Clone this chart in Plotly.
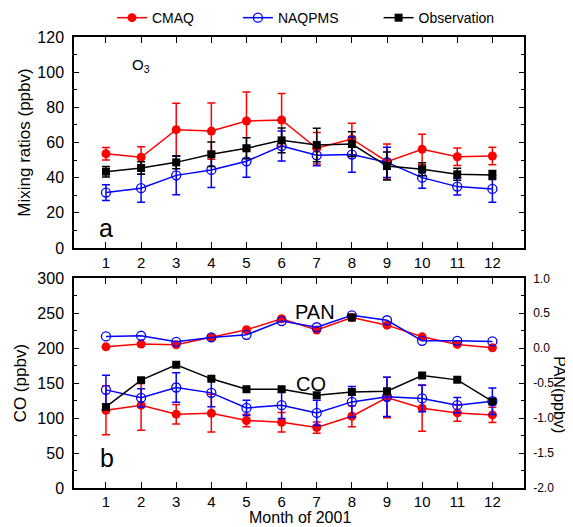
import plotly.graph_objects as go

months = list(range(1, 13))

# Panel a: O3 (ppbv)
o3_cmaq = [53.6, 51.6, 67.3, 66.5, 72.2, 72.8, 56.7, 62.0, 49.1, 56.1, 51.9, 52.3]
o3_cmaq_err = [3.5, 6.0, 15.0, 16.0, 16.5, 15.0, 9.0, 9.0, 10.0, 8.6, 5.0, 5.0]
o3_naq = [31.5, 34.0, 41.3, 44.4, 49.3, 58.0, 52.7, 53.1, 48.7, 40.0, 34.9, 33.6]
o3_naq_err = [4.5, 8.0, 11.0, 10.0, 9.0, 8.5, 6.0, 10.0, 8.6, 6.0, 4.8, 7.6]
o3_obs = [43.4, 45.5, 48.7, 53.3, 56.7, 61.2, 58.6, 59.1, 46.6, 44.8, 41.9, 41.5]
o3_obs_err = [3.0, 3.5, 3.6, 7.0, 6.0, 7.0, 9.5, 7.0, 8.0, 3.7, 3.4, 2.5]

# Panel b: CO (ppbv, left axis)
co_cmaq = [111.3, 118.5, 105.6, 107.0, 96.6, 94.1, 86.5, 102.7, 129.5, 114.2, 107.4, 104.6]
co_cmaq_err = [35, 36, 14, 27, 9, 14, 8, 15, 29, 33, 12, 11]
co_naq = [140.4, 129.0, 143.8, 136.1, 114.6, 118.5, 107.4, 123.2, 130.4, 128.1, 118.5, 124.2]
co_naq_err = [21, 13, 21, 20, 11, 19, 18, 22, 28, 19, 11, 19]
co_obs = [116.0, 154.3, 176.2, 156.2, 141.4, 141.4, 132.8, 137.5, 138.5, 161.0, 154.7, 123.8]

# Panel b: PAN (ppbv, right axis)
pan_cmaq = [0.02, 0.06, 0.05, 0.155, 0.264, 0.421, 0.26, 0.44, 0.33, 0.163, 0.054, 0.006]
pan_naq = [0.169, 0.178, 0.092, 0.155, 0.192, 0.388, 0.30, 0.47, 0.40, 0.106, 0.106, 0.097]
pan_obs = [None, None, None, None, None, None, None, 0.44, None, None, None, None]

o3_ticks = [0, 20, 40, 60, 80, 100, 120]
co_ticks = [0, 50, 100, 150, 200, 250, 300]
pan_ticks = [-2.0, -1.5, -1.0, -0.5, 0.0, 0.5, 1.0]
pan_ticktext = ["-2.0", "-1.5", "-1.0", "-0.5", "0.0", "0.5", "1.0"]

series_names = ["CMAQ", "NAQPMS", "Observation"]

RED, BLUE, BLACK = "#ff0000", "#0000ff", "#000000"
FONT = "Arial, Liberation Sans, sans-serif"
NB = "\u00a0"
legend_labels = {"CMAQ": "CMAQ" + NB * 10, "NAQPMS": "NAQPMS" + NB * 9, "Observation": "Observation"}

# page body has an 8px margin; lay the figure out in reference pixels minus 8
OFF = 8
W, H = 573 - OFF, 527 - OFF
PL, PR, PT, PB = 74 - OFF, 524 - OFF, 37.3 - OFF, 487.7 - OFF
PW, PH = PR - PL, PB - PT

def ypx(p):  # reference pixel y -> paper fraction
    return (PB - (p - OFF)) / PH

def xpx(p):
    return ((p - OFF) - PL) / PW

fig = go.Figure()

def err(arr, color):
    return dict(type="data", array=arr, color=color, thickness=1.5, width=4, visible=True)

style = {
    "CMAQ": dict(color=RED, marker=dict(symbol="circle", size=9, color=RED, line=dict(width=0))),
    "NAQPMS": dict(color=BLUE, marker=dict(symbol="circle-open", size=9, color=BLUE, line=dict(width=1.3))),
    "Observation": dict(color=BLACK, marker=dict(symbol="square", size=8, color=BLACK)),
}

# Top panel
for name, y, e in zip(series_names, [o3_cmaq, o3_naq, o3_obs], [o3_cmaq_err, o3_naq_err, o3_obs_err]):
    s = style[name]
    fig.add_trace(go.Scatter(x=months, y=y, name=legend_labels[name], mode="lines+markers",
                             line=dict(color=s["color"], width=1.5), marker=s["marker"],
                             error_y=err(e, s["color"]), xaxis="x", yaxis="y", showlegend=True))

# Bottom panel CO
for name, y, e in zip(series_names, [co_cmaq, co_naq, co_obs], [co_cmaq_err, co_naq_err, None]):
    s = style[name]
    fig.add_trace(go.Scatter(x=months, y=y, name=name, mode="lines+markers",
                             line=dict(color=s["color"], width=1.5), marker=s["marker"],
                             error_y=err(e, s["color"]) if e else None,
                             xaxis="x2", yaxis="y2", showlegend=False))

# Bottom panel PAN
for name, y in zip(series_names, [pan_cmaq, pan_naq, pan_obs]):
    s = style[name]
    fig.add_trace(go.Scatter(x=months, y=y, name=name, mode="lines+markers",
                             line=dict(color=s["color"], width=1.5), marker=s["marker"],
                             xaxis="x2", yaxis="y3", showlegend=False))

axis_common = dict(showline=True, linecolor="black", linewidth=1.5, ticks="inside",
                   tickcolor="black", tickwidth=1.2, showgrid=False, zeroline=False)
ytickfont = dict(family=FONT, size=16, color="black")
xtickfont = dict(family=FONT, size=15, color="black")

xr = [0.09, 12.9]
fig.update_layout(
    width=W, height=H,
    margin=dict(l=PL, r=W - PR, t=PT, b=H - PB, autoexpand=False),
    paper_bgcolor="white", plot_bgcolor="white",
    font=dict(family=FONT, color="black"),
    xaxis=dict(domain=[0, 1], range=xr, anchor="y", tickvals=months, ticklen=6,
               mirror="ticks", tickfont=xtickfont, **axis_common),
    yaxis=dict(domain=[ypx(248), 1], range=[0, 120], tickvals=o3_ticks, ticklen=5,
               minor=dict(ticks="inside", ticklen=3, dtick=10, tickcolor="black", tickwidth=1.2),
               mirror="ticks", anchor="x", ticklabelstandoff=5, tickfont=ytickfont,
               title=dict(text="Mixing ratios (ppbv)", font=dict(size=17), standoff=2),
               **axis_common),
    xaxis2=dict(domain=[0, 1], range=xr, anchor="y2", tickvals=months, ticklen=6,
                mirror="ticks", tickfont=xtickfont, ticklabelstandoff=-1, **axis_common),
    yaxis2=dict(domain=[0, ypx(278.3)], range=[0, 300], tickvals=co_ticks, ticklen=5,
                minor=dict(ticks="inside", ticklen=3, dtick=25, tickcolor="black", tickwidth=1.2),
                anchor="x2", ticklabelstandoff=5, tickfont=ytickfont,
                title=dict(text="CO (ppbv)", font=dict(size=17), standoff=6),
                **axis_common),
    yaxis3=dict(overlaying="y2", side="right", anchor="x2", range=[-2, 1],
                tickvals=pan_ticks, ticktext=pan_ticktext, ticklen=5,
                minor=dict(ticks="inside", ticklen=3, dtick=0.25, tickcolor="black", tickwidth=1.2),
                showline=True, linecolor="black", linewidth=1.5, ticks="inside",
                tickcolor="black", tickwidth=1.2, showgrid=False, zeroline=False,
                ticklabelstandoff=5,
                tickfont=dict(family=FONT, size=12, color="black")),
    legend=dict(orientation="h", x=xpx(112), y=ypx(18.4),
                xanchor="left", yanchor="middle", itemwidth=30,
                font=dict(family=FONT, size=14, color="black"), bgcolor="rgba(0,0,0,0)"),
    showlegend=True,
)

annos = [
    dict(text="O<sub>3</sub>", x=2.0, y=103.7, xref="x", yref="y", font=dict(size=15)),
    dict(text="a", x=1.0, y=11.4, xref="x", yref="y", font=dict(size=25)),
    dict(text="b", x=1.03, y=42.5, xref="x2", yref="y2", font=dict(size=25)),
    dict(text="PAN", x=6.95, y=251.7, xref="x2", yref="y2", font=dict(size=20)),
    dict(text="CO", x=6.84, y=148.6, xref="x2", yref="y2", font=dict(size=20)),
    dict(text="PAN(ppbv)", x=xpx(560), y=ypx(394), xref="paper", yref="paper",
         textangle=90, font=dict(size=16)),
    dict(text="Month of 2001", x=xpx(300), y=ypx(517), xref="paper", yref="paper",
         font=dict(size=16), borderpad=0),
]
for a in annos:
    fig.add_annotation(showarrow=False, xanchor="center", yanchor="middle",
                       font_family=FONT, font_color="black", **a)

fig.write_html("out.html")
